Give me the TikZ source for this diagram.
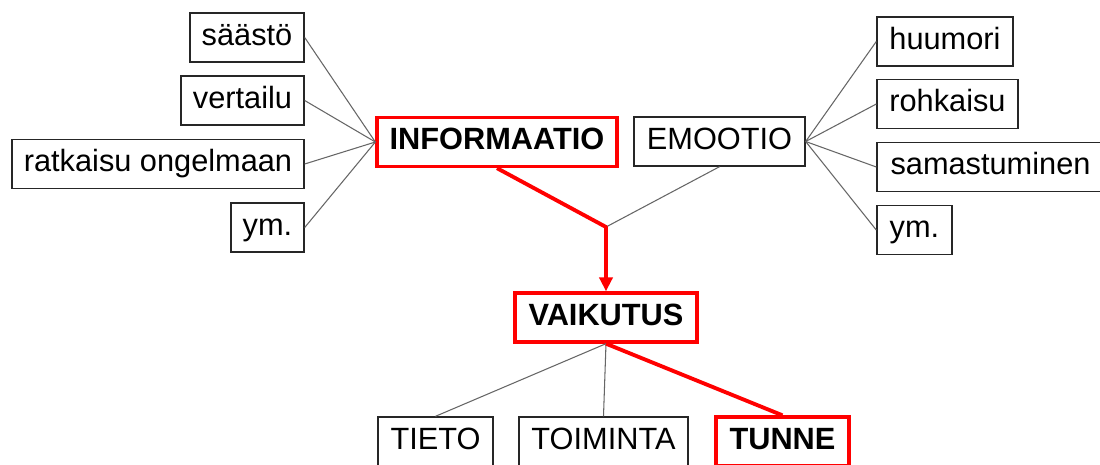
\documentclass[tikz,border=0pt]{standalone}
\usepackage{fontspec}
\setmainfont{Liberation Sans}
\usetikzlibrary{arrows.meta}

\begin{document}
\begin{tikzpicture}[x=0.02cm,y=-0.02cm,
  box/.style={draw=black!85,line width=0.8pt,inner sep=0pt,minimum height=0.98cm,
    text height=12.5pt,text depth=3.5pt,font=\fontsize{17.5}{20}\selectfont},
  keybox/.style={box,draw=red,line width=1.9pt,font=\fontsize{17.5}{20}\selectfont\bfseries},
  link/.style={black!60,line width=0.6pt},
  redlink/.style={red,line width=2.2pt,line join=round}]
\clip (0,0) rectangle (1100,464);
\fill[white] (0,0) rectangle (1100,464);
\node[box,minimum width=2.28cm] (saasto) at (247,37.5) {säästö};
\node[box,minimum width=2.46cm] (vertailu) at (242.5,100.5) {vertailu};
\node[box,minimum width=5.84cm] (ratkaisu) at (158,164) {ratkaisu ongelmaan};
\node[box,minimum width=1.46cm] (ymL) at (267.5,227.5) {ym.};
\node[keybox,minimum width=4.8cm] (info) at (497,142) {INFORMAATIO};
\node[box,minimum width=3.42cm] (emootio) at (719.5,141.5) {EMOOTIO};
\node[box,minimum width=2.72cm] (huumori) at (945,41.5) {huumori};
\node[box,minimum width=2.82cm] (rohkaisu) at (947.5,104) {rohkaisu};
\node[box,minimum width=4.54cm] (samast) at (990.5,167) {samastuminen};
\node[box,minimum width=1.5cm] (ymR) at (914.5,230) {ym.};
\node[keybox,minimum width=3.64cm] (vaikutus) at (606,317.5) {VAIKUTUS};
\node[box,minimum width=2.3cm] (tieto) at (435.5,441.5) {TIETO};
\node[box,minimum width=3.38cm] (toiminta) at (603.5,441.5) {TOIMINTA};
\node[keybox,minimum width=2.66cm] (tunne) at (782.5,441.5) {TUNNE};
\foreach \n in {saasto,vertailu,ratkaisu,ymL}
  \draw[link] (\n.east) -- (info.west);
\foreach \n in {huumori,rohkaisu,samast,ymR}
  \draw[link] (emootio.east) -- (\n.west);
\coordinate (join) at (606,227);
\draw[link] (emootio.south) -- (join);
\draw[redlink,-{Triangle[length=8pt,width=7.5pt]}] (info.south) -- (join) -- (vaikutus.north);
\draw[link] (vaikutus.south) -- (tieto.north);
\draw[link] (vaikutus.south) -- (toiminta.north);
\draw[redlink] (vaikutus.south) -- (tunne.north);
\end{tikzpicture}
\end{document}
